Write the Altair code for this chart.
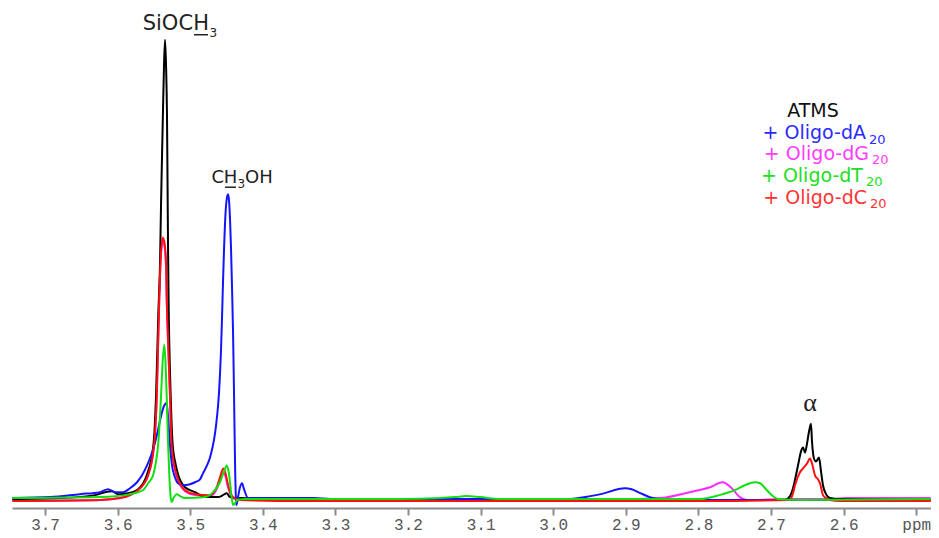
import altair as alt
import pandas as pd

# ---------------- spectra (chemical shift in ppm, intensity in a.u.) ----------------
black_ppm = [3.745, 3.679, 3.631, 3.6174, 3.6077, 3.5994, 3.5857, 3.5719, 3.5599, 3.5508,
             3.5471, 3.5439, 3.5416, 3.5402, 3.5388, 3.5375, 3.5361, 3.5347, 3.5333, 3.5320,
             3.5306, 3.5299, 3.5269, 3.5241, 3.5209, 3.5164, 3.5072, 3.4934, 3.4796, 3.4617,
             3.4548, 3.4497, 3.4452, 3.4314, 3.349, 3.073, 2.798, 2.6807, 2.6738, 2.6697,
             2.6628, 2.6587, 2.6559, 2.6532, 2.6504, 2.6477, 2.6449, 2.6435, 2.6408, 2.6380,
             2.6339, 2.6311, 2.6284, 2.6242, 2.6187, 2.6050, 2.480]
black_int = [2, 3, 6, 9, 10, 7, 8, 12, 26, 56,
             106, 190, 240, 300, 350, 395, 440, 466, 440, 390,
             260, 210, 106, 56, 40, 26, 14, 9, 4, 4,
             6, 8, 4, 3, 2, 1, 1, 1, 5, 13,
             36, 50, 54, 49, 58, 70, 78, 60, 43, 40,
             44, 30, 16, 7, 3, 2, 1]

red_ppm = [3.745, 3.6242, 3.5967, 3.5829, 3.5719, 3.5581, 3.5499, 3.5461, 3.5426, 3.5406,
           3.5379, 3.5357, 3.5333, 3.5324, 3.5302, 3.5278, 3.5255, 3.5186, 3.5072, 3.4934,
           3.4727, 3.4635, 3.4590, 3.4544, 3.4514, 3.4479, 3.4410, 3.4314, 3.349, 2.798,
           2.6738, 2.6697, 2.6669, 2.6601, 2.6559, 2.6504, 2.6463, 2.6435, 2.6394, 2.6353,
           2.6325, 2.6284, 2.6242, 2.6187, 2.6050, 2.480]
red_int = [0, 1, 3, 6, 11, 26, 56, 106, 206, 246,
           266, 262, 240, 206, 156, 106, 56, 26, 11, 7,
           6, 14, 24, 33, 28, 16, 4, 1, 0, 0,
           1, 8, 16, 29, 33, 38, 43, 38, 26, 22,
           18, 6, 3, 1, 0, 0]

green_ppm = [3.745, 3.6242, 3.5829, 3.5650, 3.5581, 3.5512, 3.5471, 3.5443, 3.5416, 3.5402,
             3.5382, 3.5357, 3.5340, 3.5324, 3.5306, 3.5288, 3.5271, 3.5255, 3.5230, 3.5186,
             3.5140, 3.5072, 3.4796, 3.4686, 3.4590, 3.4534, 3.4497, 3.4472, 3.4452, 3.4431,
             3.4410, 3.4383, 3.4355, 3.4245, 3.211, 3.156, 3.135, 3.120, 3.101, 3.073,
             2.798, 2.771, 2.750, 2.736, 2.722, 2.715, 2.707, 2.699, 2.690, 2.660, 2.480]
green_int = [3, 4, 7, 11, 18, 26, 40, 56, 86, 106,
             138, 158, 140, 106, 60, 26, 5, -1, 3, 7,
             5, 3, 4, 9, 19, 30, 36, 30, 19, 5,
             -4, -2, 1, 2, 2, 3, 4, 5, 4, 2,
             2, 6, 11, 16, 19, 18, 12, 6, 2, 1, 2]

blue_ppm = [3.745, 3.693, 3.652, 3.6242, 3.6132, 3.6036, 3.5926, 3.5829, 3.5733, 3.5664,
            3.5595, 3.5540, 3.5485, 3.5443, 3.5402, 3.5361, 3.5333, 3.5320, 3.5306, 3.5278,
            3.5251, 3.5209, 3.5168, 3.5099, 3.5003, 3.4934, 3.4865, 3.4824, 3.4769, 3.4727,
            3.4700, 3.4672, 3.4645, 3.4617, 3.4603, 3.4590, 3.4576, 3.4562, 3.4548, 3.4534,
            3.4521, 3.4507, 3.4493, 3.4479, 3.4466, 3.4452, 3.4438, 3.4424, 3.4410, 3.4397,
            3.4383, 3.4369, 3.4362, 3.4342, 3.4314, 3.4287, 3.4259, 3.4204, 3.4039, 3.329,
            3.307, 2.981, 2.949, 2.929, 2.911, 2.901, 2.892, 2.880, 2.867, 2.853,
            2.798, 2.480]
blue_int = [3, 4, 7, 9, 12, 9, 9, 13, 19, 26,
            36, 46, 59, 72, 86, 96, 99, 96, 86, 56,
            36, 24, 18, 16, 17, 19, 22, 28, 36, 44,
            52, 62, 76, 96, 110, 128, 152, 185, 222, 255,
            280, 298, 307, 310, 304, 285, 255, 215, 170, 110,
            40, 0, -4, 4, 14, 18, 12, 3, 3, 3,
            2, 2, 5, 8, 12, 13, 12, 8, 4, 2,
            1, 1]

magenta_ppm = [3.745, 3.6242, 3.5967, 3.5829, 3.5719, 3.5581, 3.5499, 3.5461, 3.5426, 3.5406,
               3.5379, 3.5357, 3.5333, 3.5324, 3.5302, 3.5278, 3.5255, 3.5186, 3.5072, 3.4934,
               3.4727, 3.4635, 3.4590, 3.4544, 3.4514, 3.4479, 3.4410, 3.4314, 3.349, 2.936,
               2.853, 2.812, 2.784, 2.767, 2.754, 2.743, 2.733, 2.674, 2.612, 2.598, 2.480]
magenta_int = [0, 1, 3, 6, 11, 26, 56, 106, 206, 246,
               262, 258, 236, 204, 154, 104, 55, 25, 10, 6,
               5, 12, 21, 29, 25, 14, 3, 1, 1, 1,
               3, 9, 14, 19, 13, 4, 1, 2, 2, 3, 3]

# ---------------- axis ----------------
tick_values = [3.7, 3.6, 3.5, 3.4, 3.3, 3.2, 3.1, 3.0, 2.9, 2.8, 2.7, 2.6, 2.5]
x_domain = [2.4796, 3.7455]
y_domain = [-7, 498]

# ---------------- annotations ----------------
peak_texts = ["SiOC", "H", "3", "C", "H", "3", "OH"]
peak_ppm = [3.4961, 3.4851, 3.4734, 3.4534, 3.4445, 3.4348, 3.4245]
peak_int = [476, 476, 469, 321, 321, 316, 321]
peak_size = [21, 21, 12, 18, 18, 12, 18]
peak_align = ["right", "center", "left", "right", "center", "left", "left"]

underline_ppm = [3.4948, 3.4521]
underline_ppm2 = [3.4755, 3.4369]
underline_int = [471, 317]

alpha_text = ["α"]
alpha_ppm = [2.6463]
alpha_int = [91]

legend_texts = ["ATMS", "+ Oligo-dA", "20", "+ Oligo-dG", "20", "+ Oligo-dT", "20", "+ Oligo-dC", "20"]
legend_ppm = [2.6421, 2.5691, 2.5650, 2.5650, 2.5609, 2.5733, 2.5691, 2.5678, 2.5636]
legend_int = [388, 366, 361, 344, 340, 322, 318, 300, 296]
legend_size = [19, 19, 13, 19, 13, 19, 13, 19, 13]
legend_align = ["center", "right", "left", "right", "left", "right", "left", "right", "left"]
legend_color = ["#111111", "#2b2bff", "#2b2bff", "#ff3cff", "#ff3cff",
                "#22dd22", "#22dd22", "#ff3333", "#ff3333"]

# ---------------- build ----------------
xenc = alt.X("ppm:Q",
             scale=alt.Scale(domain=x_domain, reverse=True, nice=False, zero=False),
             axis=alt.Axis(values=tick_values,
                           labelExpr="datum.value < 2.55 ? 'ppm' : format(datum.value, '.1f')",
                           title=None, grid=False, domainColor="#8a8a8a", domainWidth=2,
                           tickColor="#8a8a8a", tickWidth=2, tickSize=7,
                           labelFont="Liberation Mono", labelFontSize=16,
                           labelColor="#555555", labelPadding=1, labelOverlap=False,
                           labelFlush=False))
yenc = alt.Y("I:Q", scale=alt.Scale(domain=y_domain, nice=False, zero=False), axis=None)


def line_layer(p, v, color):
    d = pd.DataFrame({"ppm": p, "I": v})
    return alt.Chart(d).mark_line(color=color, strokeWidth=2, interpolate="monotone",
                                  clip=True).encode(x=xenc, y=yenc)


layers = [
    line_layer(magenta_ppm, magenta_int, "#ff2cff"),
    line_layer(black_ppm, black_int, "#000000"),
    line_layer(blue_ppm, blue_int, "#1414ff"),
    line_layer(red_ppm, red_int, "#ff1010"),
    line_layer(green_ppm, green_int, "#10e010"),
]

ann = pd.DataFrame({"ppm": peak_ppm, "I": peak_int, "t": peak_texts,
                    "fs": peak_size, "al": peak_align})
leg = pd.DataFrame({"ppm": legend_ppm, "I": legend_int, "t": legend_texts,
                    "fs": legend_size, "al": legend_align, "c": legend_color})

for al in ["left", "center", "right"]:
    sub = ann[ann["al"] == al]
    layers.append(alt.Chart(sub).mark_text(align=al, baseline="alphabetic",
                                           font="DejaVu Sans", color="#222222").encode(
        x=xenc, y=yenc, text="t:N", size=alt.Size("fs:Q", scale=None)))
    sub2 = leg[leg["al"] == al]
    layers.append(alt.Chart(sub2).mark_text(align=al, baseline="alphabetic",
                                            font="DejaVu Sans").encode(
        x=xenc, y=yenc, text="t:N", size=alt.Size("fs:Q", scale=None),
        color=alt.Color("c:N", scale=None)))

ul = pd.DataFrame({"ppm": underline_ppm, "ppm2": underline_ppm2, "I": underline_int})
layers.append(alt.Chart(ul).mark_rule(color="#222222", strokeWidth=1.5).encode(
    x=xenc, x2="ppm2:Q", y=yenc))

al_df = pd.DataFrame({"ppm": alpha_ppm, "I": alpha_int, "t": alpha_text})
layers.append(alt.Chart(al_df).mark_text(align="center", baseline="alphabetic",
                                         font="Liberation Serif", fontSize=26,
                                         color="#222222").encode(
    x=xenc, y=yenc, text="t:N"))

chart = alt.layer(*layers).properties(
    width=919, height=500,
    padding={"left": 4, "top": 0, "right": 0, "bottom": 6},
    background="white",
).configure_view(stroke=None)

chart.save("out.html", embed_options={"renderer": "svg", "actions": False})
